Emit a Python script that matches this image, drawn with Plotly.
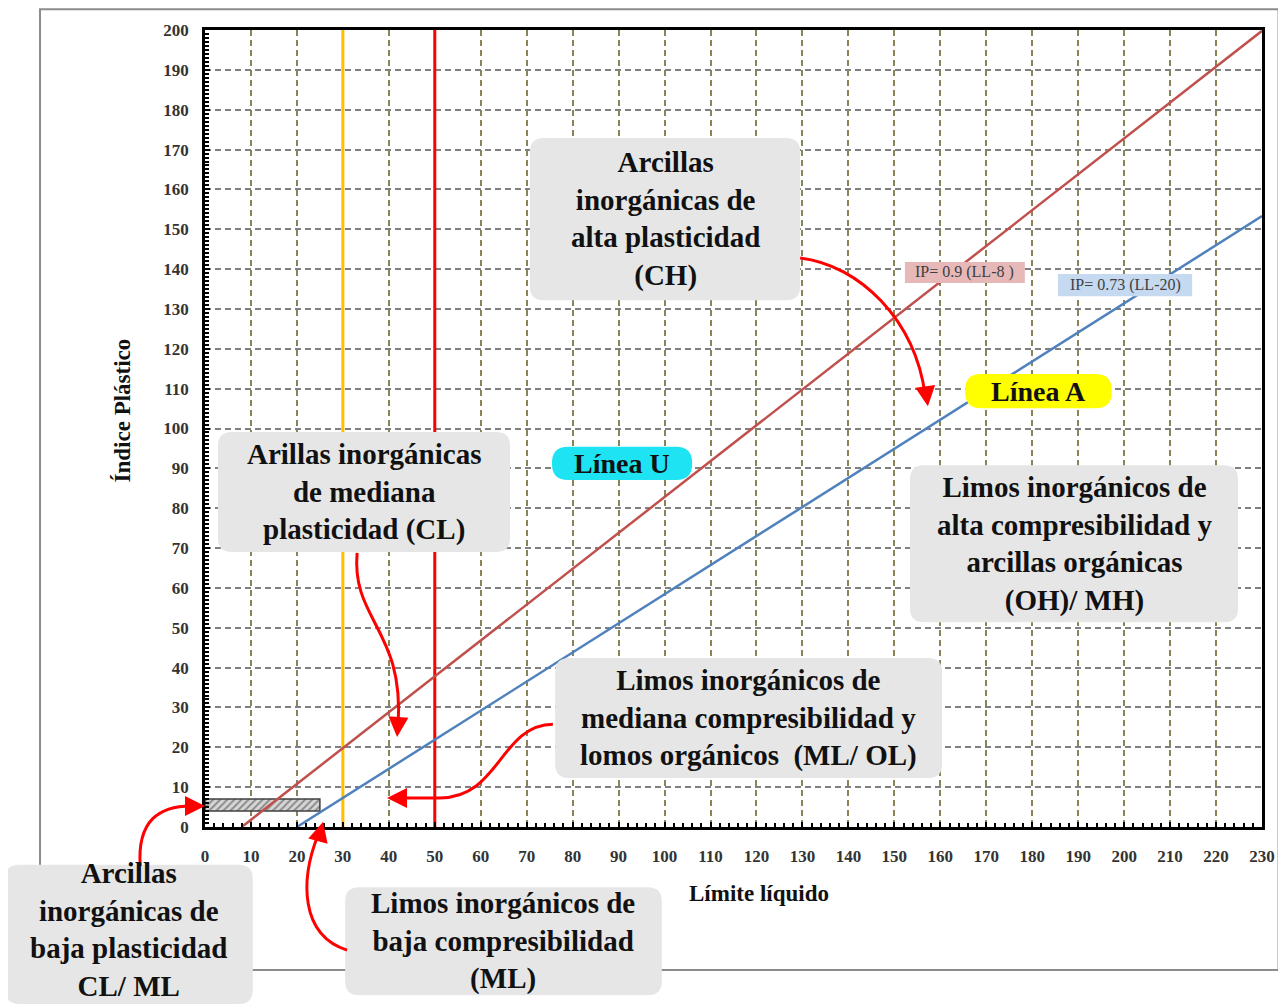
import plotly.graph_objects as go

# ---- axes ---------------------------------------------------------------
X_MAX = 230
Y_MAX = 200
x_ticks = list(range(0, X_MAX + 1, 10))
y_ticks = list(range(0, Y_MAX + 1, 10))

# ---- data (Límite líquido LL, Índice plástico IP) -----------------------
# Línea U: IP = 0.9 (LL-8)
u_ll = [8, 230]
u_ip = [0, 199.8]
# Línea A: IP = 0.73 (LL-20)
a_ll = [20, 230]
a_ip = [0, 153.3]
# vertical limits LL = 30 and LL = 50
ll30 = [30, 30]
ll50 = [50, 50]
v_ip = [0, 200]
# hatched CL-ML band
band_ll = [0, 25, 25, 0, 0]
band_ip = [4, 4, 7, 7, 4]

# ---- figure geometry (page has an 8px body margin) ---------------------
W, H = 1278, 996
M_L, M_R, M_T, M_B = 197, 24, 22, 177
PLOT_W = W - M_L - M_R
PLOT_H = H - M_T - M_B

SERIF = "Liberation Serif"


def to_paper(ll, ip):
    return ll / X_MAX, ip / Y_MAX


def pt(p):
    x, y = to_paper(*p)
    return f"{x:.5f},{y:.5f}"


def rounded_box(x0, x1, y0, y1, r):
    a0, b0 = to_paper(x0, y0)
    a1, b1 = to_paper(x1, y1)
    rx, ry = r / PLOT_W, r / PLOT_H
    return (f"M{a0+rx},{b0} L{a1-rx},{b0} Q{a1},{b0} {a1},{b0+ry} "
            f"L{a1},{b1-ry} Q{a1},{b1} {a1-rx},{b1} L{a0+rx},{b1} "
            f"Q{a0},{b1} {a0},{b1-ry} L{a0},{b0+ry} Q{a0},{b0} {a0+rx},{b0} Z")


def label(text, ll, ip, size, color="#111111", angle=0):
    x, y = to_paper(ll, ip)
    return dict(text=text, x=x, y=y, xref="paper", yref="paper", showarrow=False,
                xanchor="center", yanchor="middle", textangle=angle,
                font=dict(family=SERIF, size=size, color=color))


fig = go.Figure()

fig.add_trace(go.Scatter(
    x=band_ll, y=band_ip, mode="lines", fill="toself",
    line=dict(color="#404040", width=1.5),
    fillcolor="#d9d9d9",
    fillpattern=dict(shape="/", fgcolor="#3f3f3f", bgcolor="#d6d6d6", size=5, solidity=0.4),
    hoverinfo="skip", showlegend=False,
))
fig.add_trace(go.Scatter(x=ll30, y=v_ip, mode="lines",
                         line=dict(color="#ffc000", width=3), showlegend=False))
fig.add_trace(go.Scatter(x=ll50, y=v_ip, mode="lines",
                         line=dict(color="#ff0000", width=3), showlegend=False))
fig.add_trace(go.Scatter(x=u_ll, y=u_ip, mode="lines", name="Línea U",
                         line=dict(color="#c0504d", width=2.5), showlegend=False))
fig.add_trace(go.Scatter(x=a_ll, y=a_ip, mode="lines", name="Línea A",
                         line=dict(color="#4f81bd", width=2.5), showlegend=False))

shapes = []
annotations = []

# outer frame of the picture
fx0, fy0 = to_paper(-35.9, -35.9)
fx1, fy1 = to_paper(233.6, 205.2)
shapes.append(dict(type="rect", xref="paper", yref="paper", x0=fx0, y0=fy0, x1=fx1, y1=fy1,
                   line=dict(color="#8c8c8c", width=2), layer="below"))

# grey label boxes: text, box x0, x1, y0, y1, text centre shift (IP units)
boxes = [
    ("Arcillas<br>inorgánicas de<br>alta plasticidad<br>(CH)", 70.7, 129.5, 132.2, 172.9, 0),
    ("Arillas inorgánicas<br>de mediana<br>plasticidad (CL)", 2.8, 66.4, 69.0, 99.1, 0),
    ("Limos inorgánicos de<br>alta compresibilidad y<br>arcillas orgánicas<br>(OH)/ MH)",
     153.4, 224.8, 51.4, 90.8, 0),
    ("Limos inorgánicos de<br>mediana compresibilidad y<br>lomos orgánicos&nbsp; (ML/ OL)",
     76.2, 160.4, 12.3, 42.4, 0),
    ("Arcillas<br>inorgánicas de<br>baja plasticidad<br>CL/ ML", -43.5, 10.4, -44.4, -9.5, 1.2),
    ("Limos inorgánicos de<br>baja compresibilidad<br>(ML)", 30.5, 99.4, -42.2, -15.1, 0),
]
for text, x0, x1, y0, y1, shift in boxes:
    shapes.append(dict(type="path", xref="paper", yref="paper", layer="above",
                       path=rounded_box(x0, x1, y0, y1, 14),
                       fillcolor="#e6e6e6", line=dict(width=0)))
    annotations.append(label(f"<b>{text}</b>", (x0 + x1) / 2, (y0 + y1) / 2 + shift, 29))

# pill labels
pills = [
    ("Línea U", 75.5, 106.0, 87.1, 95.4, "#1de3f2"),
    ("Línea A", 165.4, 197.3, 105.1, 113.7, "#ffff00"),
]
for text, x0, x1, y0, y1, color in pills:
    shapes.append(dict(type="path", xref="paper", yref="paper", layer="above",
                       path=rounded_box(x0, x1, y0, y1, 16),
                       fillcolor=color, line=dict(width=0)))
    annotations.append(label(f"<b>{text}</b>", (x0 + x1) / 2, (y0 + y1) / 2, 28))

# equation labels
equations = [
    ("IP= 0.9 (LL-8 )", 152.3, 178.4, 136.5, 141.8, "#e6b9b8"),
    ("IP= 0.73 (LL-20)", 185.6, 214.8, 133.2, 138.8, "#c5d9f1"),
]
for text, x0, x1, y0, y1, color in equations:
    a0, b0 = to_paper(x0, y0)
    a1, b1 = to_paper(x1, y1)
    shapes.append(dict(type="rect", xref="paper", yref="paper", layer="above",
                       x0=a0, x1=a1, y0=b0, y1=b1, fillcolor=color, line=dict(width=0)))
    annotations.append(label(text, (x0 + x1) / 2, (y0 + y1) / 2, 16, color="#404040"))

# red curved arrows: M p0, C p1 p2 p3, optional L p4 ; head at tip, tail offset in px
arrows = [
    ([(129.5, 142.8), (142.5, 141.0), (154.5, 127.2), (156.7, 108.4)], (157.3, 105.6), (-2, -15)),
    ([(33.1, 68.8), (31.8, 51.9), (43.5, 49.4), (42.0, 25.4)], (41.8, 22.6), (1, -15)),
    ([(75.7, 25.8), (64.2, 25.6), (64.2, 7.3), (51.1, 7.3), (43.0, 7.3)], (39.6, 7.3), (15, 0)),
    ([(-14.1, -9.8), (-14.8, 1.8), (-9.8, 5.3), (-3.0, 5.3)], (0.0, 5.3), (-15, 0)),
    ([(30.9, -30.9), (20.7, -27.1), (20.7, -13.3), (24.6, -2.0)], (25.7, 1.3), (-4, 15)),
]
for pts, tip, tail in arrows:
    path = f"M{pt(pts[0])} C{pt(pts[1])} {pt(pts[2])} {pt(pts[3])}"
    if len(pts) > 4:
        path += f" L{pt(pts[4])}"
    shapes.append(dict(type="path", xref="paper", yref="paper", layer="above", path=path,
                       line=dict(color="#ff0000", width=3)))
    tx, ty = to_paper(*tip)
    annotations.append(dict(text="", x=tx, y=ty, xref="paper", yref="paper",
                            ax=tail[0], ay=tail[1], showarrow=True, arrowhead=2,
                            arrowsize=1.6, arrowwidth=2.5, arrowcolor="#ff0000", standoff=0))

# axis titles
annotations.append(label("<b>Índice Plástico</b>", -18.0, 104.6, 23, angle=-90))
annotations.append(label("<b>Límite líquido</b>", 120.6, -16.6, 23))

tickfont = dict(family=SERIF, size=17, color="#333333", weight="bold")
common = dict(showline=True, linecolor="black", linewidth=2.5, mirror=True,
              ticks="inside", ticklen=5, tickwidth=2, tickcolor="black",
              zeroline=False, showgrid=True, gridwidth=1.6, griddash="6px,4px",
              tickfont=tickfont)

fig.update_layout(
    width=W, height=H,
    margin=dict(l=M_L, r=M_R, t=M_T, b=M_B),
    paper_bgcolor="white", plot_bgcolor="white",
    showlegend=False,
    shapes=shapes,
    annotations=annotations,
    xaxis=dict(range=[0, X_MAX], tickvals=x_ticks, gridcolor="#8a8456",
               ticklabelstandoff=12,
               minor=dict(dtick=2, ticks="inside", ticklen=4, tickwidth=1.5,
                          tickcolor="black", showgrid=False),
               **common),
    yaxis=dict(range=[0, Y_MAX], tickvals=y_ticks, gridcolor="#808080",
               ticklabelstandoff=10,
               minor=dict(dtick=1, ticks="inside", ticklen=4, tickwidth=1.5,
                          tickcolor="black", showgrid=False),
               **common),
)

fig.write_html("out.html")
